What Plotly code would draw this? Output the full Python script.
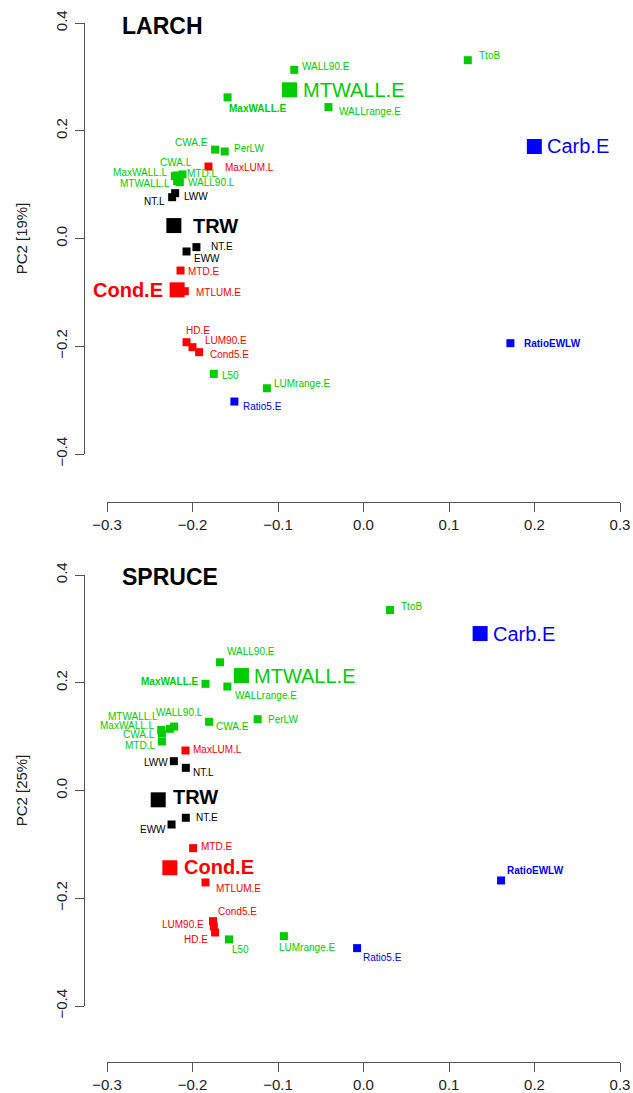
import plotly.graph_objects as go

# ---------------- data ----------------
larch_labels = ["TtoB", "WALL90.E", "MTWALL.E", "MaxWALL.E", "WALLrange.E", "CWA.E", "PerLW",
                "Carb.E", "MaxLUM.L", "CWA.L", "MaxWALL.L", "MTD.L", "MTWALL.L", "WALL90.L",
                "LWW", "NT.L", "TRW", "NT.E", "EWW", "MTD.E", "MTLUM.E", "Cond.E", "HD.E",
                "LUM90.E", "Cond5.E", "L50", "LUMrange.E", "Ratio5.E", "RatioEWLW"]
larch_pc1 = [0.122, -0.081, -0.0865, -0.159, -0.041, -0.1736, -0.1623,
             0.1998, -0.1813, -0.2187, -0.2207, -0.2117, -0.218, -0.2148,
             -0.2203, -0.2238, -0.2218, -0.1954, -0.207, -0.214, -0.209, -0.218, -0.207,
             -0.200, -0.1923, -0.1751, -0.113, -0.151, 0.1718]
larch_pc2 = [0.331, 0.313, 0.276, 0.262, 0.244, 0.165, 0.1615,
             0.1708, 0.1336, 0.117, 0.1157, 0.119, 0.1064, 0.1045,
             0.0841, 0.0767, 0.024, -0.016, -0.0241, -0.0594, -0.0978, -0.0953, -0.1925,
             -0.2017, -0.211, -0.2512, -0.278, -0.3026, -0.1943]

spruce_labels = ["TtoB", "WALL90.E", "MTWALL.E", "MaxWALL.E", "WALLrange.E", "CWA.E", "PerLW",
                 "WALL90.L", "MTWALL.L", "MaxWALL.L", "CWA.L", "MTD.L", "MaxLUM.L", "LWW",
                 "NT.L", "TRW", "NT.E", "EWW", "MTD.E", "Cond.E", "MTLUM.E", "Cond5.E",
                 "LUM90.E", "HD.E", "L50", "LUMrange.E", "Ratio5.E", "Carb.E", "RatioEWLW"]
spruce_pc1 = [0.031, -0.1678, -0.1428, -0.1848, -0.1592, -0.1806, -0.1238,
              -0.2215, -0.2265, -0.2366, -0.2358, -0.2358, -0.2082, -0.2218,
              -0.2078, -0.2401, -0.2078, -0.2245, -0.1993, -0.2265, -0.1848, -0.176,
              -0.1751, -0.1736, -0.1573, -0.0931, -0.0075, 0.1364, 0.1609]
spruce_pc2 = [0.335, 0.238, 0.2134, 0.198, 0.193, 0.1275, 0.1323,
              0.1187, 0.1145, 0.1122, 0.1058, 0.0909, 0.0742, 0.0544,
              0.0421, -0.0173, -0.0506, -0.0631, -0.107, -0.1434, -0.1707, -0.2425,
              -0.2523, -0.2635, -0.2764, -0.2703, -0.2926, 0.2913, -0.167]

variable_group = {
    "TtoB": "anatomy", "WALL90.E": "anatomy", "MTWALL.E": "anatomy", "MaxWALL.E": "anatomy",
    "WALLrange.E": "anatomy", "CWA.E": "anatomy", "PerLW": "anatomy", "CWA.L": "anatomy",
    "MaxWALL.L": "anatomy", "MTD.L": "anatomy", "MTWALL.L": "anatomy", "WALL90.L": "anatomy",
    "L50": "anatomy", "LUMrange.E": "anatomy",
    "MaxLUM.L": "lumen", "MTD.E": "lumen", "Cond.E": "lumen", "MTLUM.E": "lumen",
    "HD.E": "lumen", "LUM90.E": "lumen", "Cond5.E": "lumen",
    "NT.L": "width", "LWW": "width", "TRW": "width", "NT.E": "width", "EWW": "width",
    "Carb.E": "isotope", "RatioEWLW": "isotope", "Ratio5.E": "isotope",
}
panel_titles = ["LARCH", "SPRUCE"]
y_titles = ["PC2 [19%]", "PC2 [25%]"]
x_ticks = [-0.3, -0.2, -0.1, 0.0, 0.1, 0.2, 0.3]
y_ticks = [-0.4, -0.2, 0.0, 0.2, 0.4]

# ---------------- style ----------------
group_color = {"anatomy": "#00CD00", "lumen": "#FF0000", "width": "#000000", "isotope": "#0000FF"}
big_vars = {"MTWALL.E", "TRW", "Cond.E", "Carb.E"}
bold_vars = {"TRW", "Cond.E", "MaxWALL.E", "RatioEWLW"}

# label placement relative to the marker: (anchored edge, dx px, dy px downwards)
larch_lab = {
    "TtoB": ("l", 11, -5), "WALL90.E": ("l", 8, -3), "MTWALL.E": ("l", 13, 0),
    "MaxWALL.E": ("l", 1, 11.5), "WALLrange.E": ("l", 11, 4), "CWA.E": ("r", -7, -7.5),
    "PerLW": ("l", 9, -2.5), "Carb.E": ("l", 13, 0), "MaxLUM.L": ("l", 17, 0.5),
    "CWA.L": ("c", -1, -13), "MaxWALL.L": ("r", -6.5, -4), "MTD.L": ("l", 4.5, -0.5),
    "MTWALL.L": ("r", -7, 2), "WALL90.L": ("l", 8, 0.5), "LWW": ("l", 9, 3),
    "NT.L": ("r", -7, 4), "TRW": ("l", 19, 0), "NT.E": ("l", 15, -1),
    "EWW": ("l", 7, 7.5), "MTD.E": ("l", 7.5, 1), "Cond.E": ("r", -14, 0),
    "MTLUM.E": ("l", 11, 1.5), "HD.E": ("l", -0.5, -11.5), "LUM90.E": ("l", 12, -6.5),
    "Cond5.E": ("l", 10.5, 2.3), "L50": ("l", 8.5, 1.5), "LUMrange.E": ("l", 7, -4.5),
    "Ratio5.E": ("l", 8.5, 5), "RatioEWLW": ("l", 14, 0),
}
spruce_lab = {
    "TtoB": ("l", 11, -4), "WALL90.E": ("l", 6.5, -11), "MTWALL.E": ("l", 13, 0),
    "MaxWALL.E": ("r", -6.5, -2.5), "WALLrange.E": ("l", 7.5, 9), "CWA.E": ("l", 7, 4.7),
    "PerLW": ("l", 10, 0.5), "WALL90.L": ("c", 5.5, -14), "MTWALL.L": ("r", -11.5, -12),
    "MaxWALL.L": ("r", -6.5, -4.5), "CWA.L": ("r", -7, 1.3), "MTD.L": ("r", -7, 4),
    "MaxLUM.L": ("l", 7.5, -1.5), "LWW": ("r", -6, 1), "NT.L": ("l", 7.5, 4.5),
    "TRW": ("l", 15, -3), "NT.E": ("l", 10, 0), "EWW": ("r", -6, 4.5),
    "MTD.E": ("l", 7.5, -1.5), "Cond.E": ("l", 14, -0.5), "MTLUM.E": ("l", 10.5, 6.3),
    "Cond5.E": ("l", 5, -10), "LUM90.E": ("r", -9.5, -1.5), "HD.E": ("r", -7, 7),
    "L50": ("l", 3, 10.3), "LUMrange.E": ("l", -5, 11.5), "Ratio5.E": ("l", 5.5, 9),
    "Carb.E": ("l", 13, 0), "RatioEWLW": ("l", 6, -10),
}

FONT = "Liberation Sans, Arial, Helvetica, sans-serif"
W, H = 633, 1093
AX = "#555555"
ANCH = {"l": "left", "r": "right", "c": "center"}

fig = go.Figure()

panels = [
    (larch_labels, larch_pc1, larch_pc2, larch_lab, "x", "y"),
    (spruce_labels, spruce_pc1, spruce_pc2, spruce_lab, "x2", "y2"),
]
for labels, xs, ys, lab, xa, ya in panels:
    colors = [group_color[variable_group[l]] for l in labels]
    sizes = [15 if l in big_vars else 8 for l in labels]
    fig.add_trace(go.Scatter(
        x=xs, y=ys, mode="markers", xaxis=xa, yaxis=ya,
        marker=dict(symbol="square", size=sizes, color=colors, opacity=1, line=dict(width=0)),
        cliponaxis=False, hoverinfo="skip", showlegend=False,
    ))
    for l, xv, yv, c in zip(labels, xs, ys, colors):
        a, dx, dy = lab[l]
        txt = f"<b>{l}</b>" if l in bold_vars else l
        fig.add_annotation(x=xv, y=yv, xref=xa, yref=ya, text=txt, showarrow=False,
                           xanchor=ANCH[a], yanchor="middle", xshift=dx, yshift=-dy,
                           borderpad=0, borderwidth=0,
                           font=dict(family=FONT, size=20 if l in big_vars else 10, color=c))

xdom = [107 / W, 620 / W]
ydoms = [[1 - 454 / H, 1 - 23 / H], [1 - 1006 / H, 1 - 575 / H]]
xpos = [1 - 502 / H, 1 - 1062 / H]
ypos = 84 / W

axis_common = dict(showline=True, linecolor=AX, linewidth=1.2, ticks="outside", ticklen=9,
                   tickcolor=AX, tickwidth=1.2, showgrid=False, zeroline=False,
                   tickfont=dict(family=FONT, size=15, color="#222222"), tickformat=".1f",
                   automargin=False)

layout = dict(width=W, height=H, margin=dict(l=0, r=0, t=0, b=0),
              paper_bgcolor="white", plot_bgcolor="white", template="none",
              font=dict(family=FONT), showlegend=False)
for i in range(2):
    sx = "" if i == 0 else "2"
    layout["xaxis" + sx] = dict(axis_common, domain=xdom, range=[-0.3, 0.3], tickvals=x_ticks,
                                anchor="free", position=xpos[i])
    layout["yaxis" + sx] = dict(axis_common, domain=ydoms[i], range=[-0.4, 0.4], tickvals=y_ticks,
                                anchor="free", position=ypos, tickangle=-90, ticklabelstandoff=2,
                                title=dict(text=y_titles[i], font=dict(family=FONT, size=15, color="#222222"),
                                           standoff=20))
fig.update_layout(**layout)

title_y = [0.394, 0.397]
for i, t in enumerate(panel_titles):
    sx = "" if i == 0 else "2"
    fig.add_annotation(x=-0.285, y=title_y[i], xref="x" + sx, yref="y" + sx, text=f"<b>{t}</b>",
                       showarrow=False, xanchor="left", yanchor="middle",
                       font=dict(family=FONT, size=23, color="black"))

fig.write_html("out.html")
